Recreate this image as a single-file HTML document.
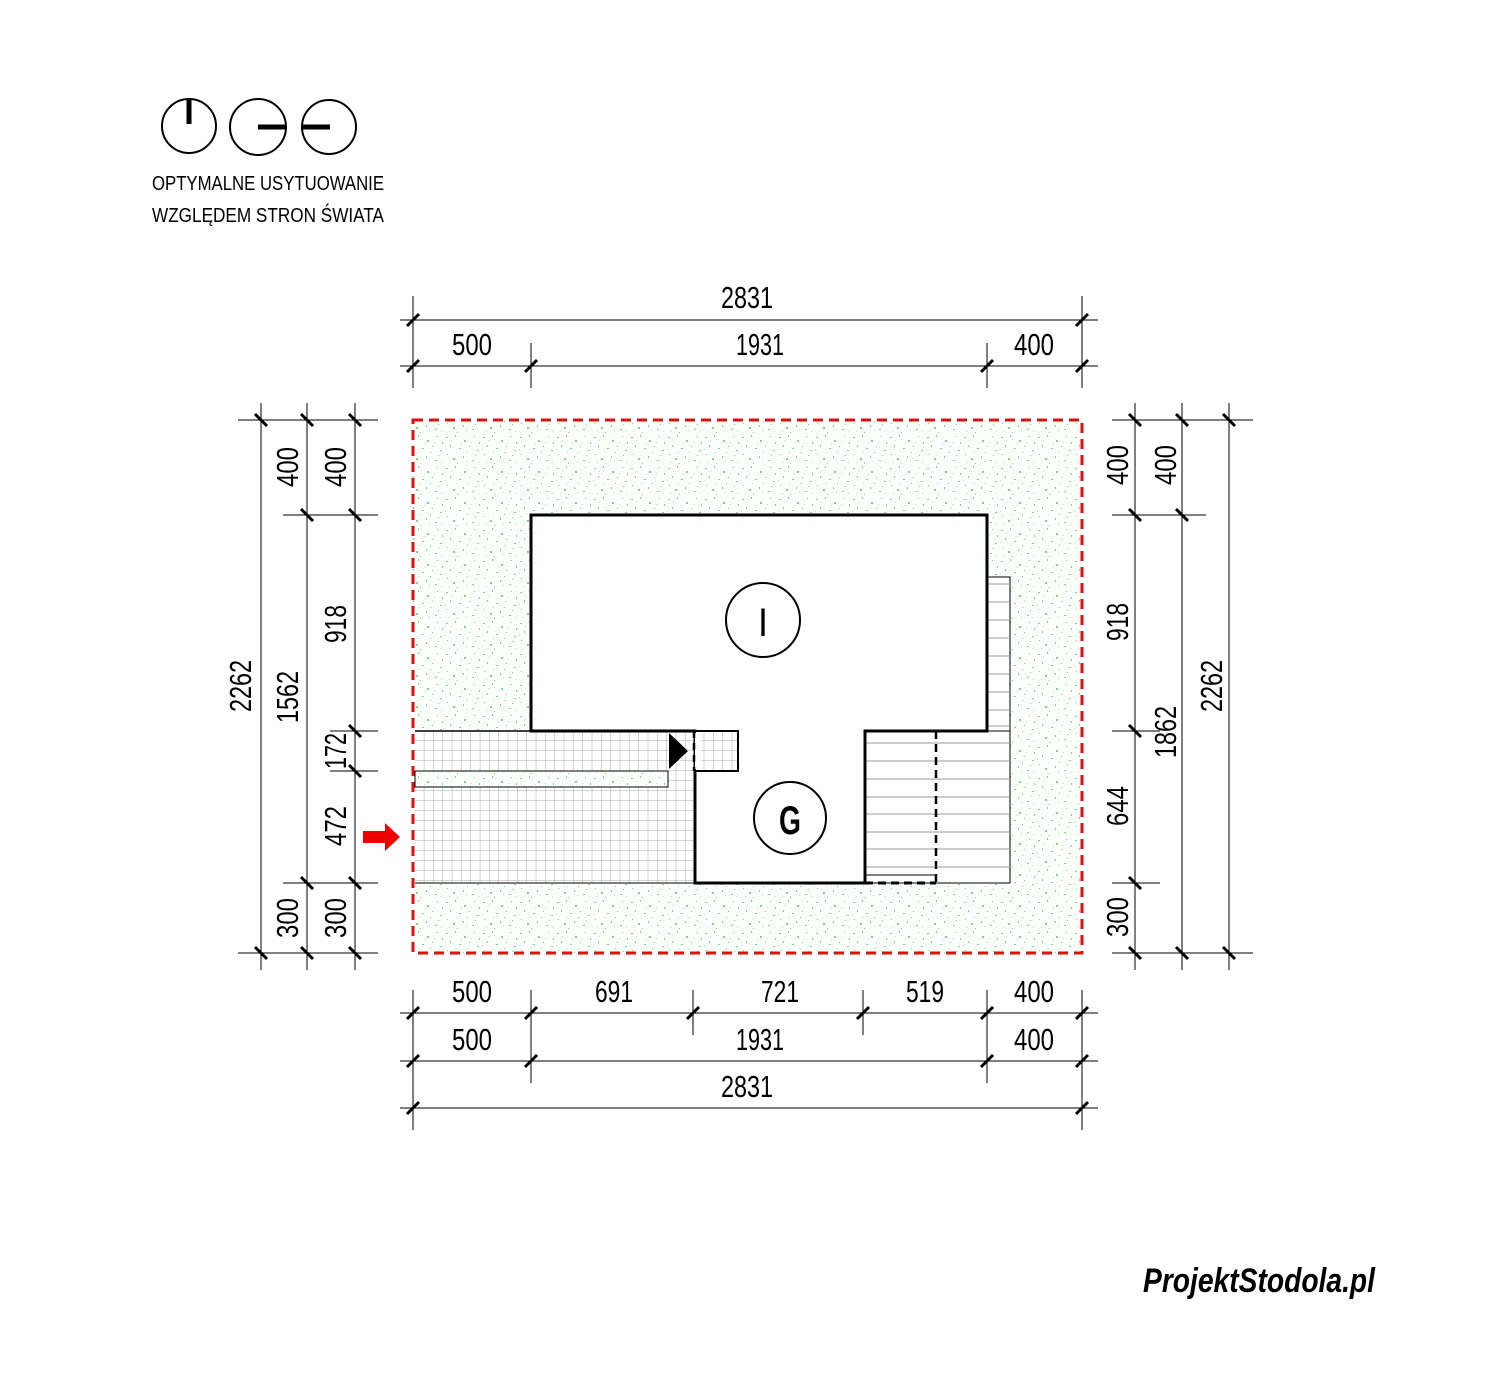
<!DOCTYPE html>
<html><head><meta charset="utf-8"><style>
html,body{margin:0;padding:0;background:#fff;}
svg{display:block}
text{font-family:"Liberation Sans",sans-serif;fill:#000}
</style></head><body>
<svg width="1512" height="1381" viewBox="0 0 1512 1381" xmlns="http://www.w3.org/2000/svg">
<defs>
<pattern id="grass" width="37" height="31" patternUnits="userSpaceOnUse">
<rect width="37" height="31" fill="#fbfffb"/>
<g fill="#7fd77f">
<rect x="2" y="3" width="2" height="1"/><rect x="11" y="1" width="1" height="2"/><rect x="20" y="6" width="2" height="2"/><rect x="30" y="2" width="1" height="1"/>
<rect x="6" y="11" width="1" height="2"/><rect x="15" y="14" width="2" height="1"/><rect x="25" y="12" width="1" height="1"/><rect x="33" y="16" width="2" height="1"/>
<rect x="3" y="20" width="1" height="1"/><rect x="9" y="24" width="2" height="2"/><rect x="19" y="22" width="1" height="2"/><rect x="28" y="26" width="2" height="1"/>
<rect x="13" y="29" width="1" height="1"/><rect x="35" y="8" width="1" height="2"/><rect x="23" y="18" width="1" height="1"/><rect x="31" y="21" width="1" height="1"/>
</g>
<g fill="#b8ecb8">
<rect x="7" y="6" width="1" height="1"/><rect x="17" y="9" width="1" height="1"/><rect x="27" y="8" width="1" height="1"/><rect x="1" y="15" width="1" height="1"/>
<rect x="12" y="18" width="1" height="1"/><rect x="22" y="27" width="1" height="1"/><rect x="34" y="28" width="1" height="1"/><rect x="5" y="28" width="1" height="1"/>
</g>
</pattern>
<pattern id="grid" x="415" y="731" width="9.33" height="10" patternUnits="userSpaceOnUse">
<rect width="9.33" height="10" fill="#fff"/>
<path d="M9.33 0V10M0 10H9.33" stroke="#aaa" stroke-width="1" fill="none"/>
</pattern>
</defs>

<!-- legend -->
<g fill="none" stroke="#000" stroke-width="2">
<circle cx="189" cy="126" r="27"/>
<circle cx="258" cy="127" r="28"/>
<circle cx="329" cy="127" r="27"/>
</g>
<g stroke="#000" stroke-width="5">
<line x1="189" y1="98" x2="189" y2="124"/>
<line x1="258" y1="127" x2="286" y2="127"/>
<line x1="301" y1="127" x2="330" y2="127"/>
</g>
<text x="152" y="190" font-size="20" textLength="232" lengthAdjust="spacingAndGlyphs">OPTYMALNE USYTUOWANIE</text>
<text x="152" y="222" font-size="20" textLength="232" lengthAdjust="spacingAndGlyphs">WZGLĘDEM STRON ŚWIATA</text>

<!-- plot -->
<rect x="413" y="420" width="669" height="533" fill="url(#grass)"/>

<!-- left terrace -->
<rect x="415" y="731" width="280" height="152" fill="url(#grid)"/>
<rect x="415" y="771" width="253" height="16" fill="url(#grass)" stroke="#000" stroke-width="1"/>
<rect x="695" y="731" width="43" height="40" fill="url(#grid)"/>

<!-- right terrace + stairs -->
<rect x="865" y="731" width="145" height="152" fill="#fff" stroke="#000" stroke-width="1"/>
<rect x="987" y="577" width="23" height="154" fill="#fff" stroke="#000" stroke-width="1"/>
<g stroke="#999" stroke-width="1">
<line x1="987" y1="584" x2="1010" y2="584"/><line x1="987" y1="602" x2="1010" y2="602"/><line x1="987" y1="620" x2="1010" y2="620"/><line x1="987" y1="638" x2="1010" y2="638"/><line x1="987" y1="656" x2="1010" y2="656"/><line x1="987" y1="674" x2="1010" y2="674"/><line x1="987" y1="692" x2="1010" y2="692"/><line x1="987" y1="710" x2="1010" y2="710"/><line x1="987" y1="726" x2="1010" y2="726"/>
<line x1="865" y1="743" x2="1010" y2="743"/><line x1="865" y1="761" x2="1010" y2="761"/><line x1="865" y1="779" x2="1010" y2="779"/><line x1="865" y1="797" x2="1010" y2="797"/><line x1="865" y1="814" x2="1010" y2="814"/><line x1="865" y1="832" x2="1010" y2="832"/><line x1="865" y1="849" x2="1010" y2="849"/><line x1="865" y1="867" x2="1010" y2="867"/>
</g>
<line x1="865" y1="875" x2="936" y2="875" stroke="#000" stroke-width="1"/>

<!-- house -->
<path d="M531 731V515H987V731H865V883H695V731Z" fill="#fff" stroke="#000" stroke-width="3"/>
<rect x="695" y="731" width="43" height="40" fill="url(#grid)" stroke="#000" stroke-width="2"/>
<line x1="415" y1="731" x2="531" y2="731" stroke="#000" stroke-width="1.5"/>
<line x1="415" y1="883" x2="695" y2="883" stroke="#000" stroke-width="1"/>
<line x1="865" y1="883" x2="1010" y2="883" stroke="#000" stroke-width="1"/>
<rect x="695" y="733" width="6" height="36" fill="#fff"/>
<line x1="694" y1="731" x2="694" y2="771" stroke="#000" stroke-width="2.5" stroke-dasharray="7,5"/>
<line x1="936" y1="731" x2="936" y2="883" stroke="#000" stroke-width="2.5" stroke-dasharray="8,5"/>
<line x1="865" y1="883" x2="936" y2="883" stroke="#000" stroke-width="3" stroke-dasharray="8,5"/>
<polygon points="669,733 669,769 688,751" fill="#000"/>

<circle cx="763" cy="620" r="37" fill="none" stroke="#000" stroke-width="2"/>
<text x="763" y="636" font-size="40" text-anchor="middle" textLength="10" lengthAdjust="spacingAndGlyphs">I</text>
<circle cx="790" cy="818" r="36" fill="none" stroke="#000" stroke-width="2"/>
<text x="790" y="834" font-size="40" text-anchor="middle" textLength="22" lengthAdjust="spacingAndGlyphs" font-weight="bold">G</text>

<rect x="413" y="420" width="669" height="533" fill="none" stroke="#d11" stroke-width="3" stroke-dasharray="10,6"/>

<!-- red arrow -->
<polygon points="363,831 385,831 385,823 400,837 385,851 385,843 363,843" fill="#e00"/>

<!-- dimension lines -->
<g stroke="#000" stroke-width="1">
<!-- top -->
<line x1="400" y1="320" x2="1098" y2="320"/>
<line x1="400" y1="366" x2="1098" y2="366"/>
<line x1="413" y1="296" x2="413" y2="388"/>
<line x1="1082" y1="296" x2="1082" y2="388"/>
<line x1="531" y1="343" x2="531" y2="388"/>
<line x1="987" y1="343" x2="987" y2="388"/>
<!-- bottom -->
<line x1="400" y1="1013" x2="1098" y2="1013"/>
<line x1="400" y1="1061" x2="1098" y2="1061"/>
<line x1="400" y1="1108" x2="1098" y2="1108"/>
<line x1="413" y1="990" x2="413" y2="1130"/>
<line x1="1082" y1="990" x2="1082" y2="1130"/>
<line x1="531" y1="990" x2="531" y2="1083"/>
<line x1="987" y1="990" x2="987" y2="1083"/>
<line x1="693" y1="990" x2="693" y2="1035"/>
<line x1="863" y1="990" x2="863" y2="1035"/>
<!-- left -->
<line x1="261" y1="403" x2="261" y2="970"/>
<line x1="307" y1="403" x2="307" y2="970"/>
<line x1="355" y1="403" x2="355" y2="970"/>
<line x1="238" y1="420" x2="378" y2="420"/>
<line x1="283" y1="515" x2="378" y2="515"/>
<line x1="330" y1="731" x2="378" y2="731"/>
<line x1="330" y1="771" x2="378" y2="771"/>
<line x1="283" y1="883" x2="378" y2="883"/>
<line x1="238" y1="953" x2="378" y2="953"/>
<!-- right -->
<line x1="1135" y1="403" x2="1135" y2="970"/>
<line x1="1182" y1="403" x2="1182" y2="970"/>
<line x1="1229" y1="403" x2="1229" y2="970"/>
<line x1="1112" y1="420" x2="1253" y2="420"/>
<line x1="1112" y1="515" x2="1206" y2="515"/>
<line x1="1112" y1="731" x2="1160" y2="731"/>
<line x1="1112" y1="883" x2="1160" y2="883"/>
<line x1="1112" y1="953" x2="1253" y2="953"/>
</g>
<!-- ticks -->
<g stroke="#000" stroke-width="3">
<path d="M407 326L419 314M1076 326L1088 314M407 372L419 360M525 372L537 360M981 372L993 360M1076 372L1088 360"/>
<path d="M407 1019L419 1007M525 1019L537 1007M687 1019L699 1007M857 1019L869 1007M981 1019L993 1007M1076 1019L1088 1007"/>
<path d="M407 1067L419 1055M525 1067L537 1055M981 1067L993 1055M1076 1067L1088 1055M407 1114L419 1102M1076 1114L1088 1102"/>
<path d="M255 414L267 426M255 947L267 959M301 414L313 426M301 509L313 521M301 877L313 889M301 947L313 959"/>
<path d="M349 414L361 426M349 509L361 521M349 725L361 737M349 765L361 777M349 877L361 889M349 947L361 959"/>
<path d="M1129 414L1141 426M1129 509L1141 521M1129 725L1141 737M1129 877L1141 889M1129 947L1141 959"/>
<path d="M1176 414L1188 426M1176 509L1188 521M1176 947L1188 959M1223 414L1235 426M1223 947L1235 959"/>
</g>

<g font-size="31">
<text x="747" y="308" text-anchor="middle" textLength="52" lengthAdjust="spacingAndGlyphs">2831</text>
<text x="472" y="355" text-anchor="middle" textLength="40" lengthAdjust="spacingAndGlyphs">500</text>
<text x="760" y="355" text-anchor="middle" textLength="48" lengthAdjust="spacingAndGlyphs">1931</text>
<text x="1034" y="355" text-anchor="middle" textLength="40" lengthAdjust="spacingAndGlyphs">400</text>

<text x="472" y="1002" text-anchor="middle" textLength="40" lengthAdjust="spacingAndGlyphs">500</text>
<text x="614" y="1002" text-anchor="middle" textLength="38" lengthAdjust="spacingAndGlyphs">691</text>
<text x="780" y="1002" text-anchor="middle" textLength="38" lengthAdjust="spacingAndGlyphs">721</text>
<text x="925" y="1002" text-anchor="middle" textLength="38" lengthAdjust="spacingAndGlyphs">519</text>
<text x="1034" y="1002" text-anchor="middle" textLength="40" lengthAdjust="spacingAndGlyphs">400</text>
<text x="472" y="1050" text-anchor="middle" textLength="40" lengthAdjust="spacingAndGlyphs">500</text>
<text x="760" y="1050" text-anchor="middle" textLength="48" lengthAdjust="spacingAndGlyphs">1931</text>
<text x="1034" y="1050" text-anchor="middle" textLength="40" lengthAdjust="spacingAndGlyphs">400</text>
<text x="747" y="1097" text-anchor="middle" textLength="52" lengthAdjust="spacingAndGlyphs">2831</text>

<text transform="translate(251,686) rotate(-90)" text-anchor="middle" textLength="52" lengthAdjust="spacingAndGlyphs">2262</text>
<text transform="translate(298,467) rotate(-90)" text-anchor="middle" textLength="40" lengthAdjust="spacingAndGlyphs">400</text>
<text transform="translate(298,697) rotate(-90)" text-anchor="middle" textLength="52" lengthAdjust="spacingAndGlyphs">1562</text>
<text transform="translate(298,918) rotate(-90)" text-anchor="middle" textLength="40" lengthAdjust="spacingAndGlyphs">300</text>
<text transform="translate(346,467) rotate(-90)" text-anchor="middle" textLength="40" lengthAdjust="spacingAndGlyphs">400</text>
<text transform="translate(346,624) rotate(-90)" text-anchor="middle" textLength="38" lengthAdjust="spacingAndGlyphs">918</text>
<text transform="translate(346,751) rotate(-90)" text-anchor="middle" textLength="36" lengthAdjust="spacingAndGlyphs">172</text>
<text transform="translate(346,826) rotate(-90)" text-anchor="middle" textLength="40" lengthAdjust="spacingAndGlyphs">472</text>
<text transform="translate(346,918) rotate(-90)" text-anchor="middle" textLength="40" lengthAdjust="spacingAndGlyphs">300</text>

<text transform="translate(1128,465) rotate(-90)" text-anchor="middle" textLength="40" lengthAdjust="spacingAndGlyphs">400</text>
<text transform="translate(1128,622) rotate(-90)" text-anchor="middle" textLength="38" lengthAdjust="spacingAndGlyphs">918</text>
<text transform="translate(1128,806) rotate(-90)" text-anchor="middle" textLength="40" lengthAdjust="spacingAndGlyphs">644</text>
<text transform="translate(1128,917) rotate(-90)" text-anchor="middle" textLength="40" lengthAdjust="spacingAndGlyphs">300</text>
<text transform="translate(1176,465) rotate(-90)" text-anchor="middle" textLength="40" lengthAdjust="spacingAndGlyphs">400</text>
<text transform="translate(1176,732) rotate(-90)" text-anchor="middle" textLength="52" lengthAdjust="spacingAndGlyphs">1862</text>
<text transform="translate(1222,686) rotate(-90)" text-anchor="middle" textLength="52" lengthAdjust="spacingAndGlyphs">2262</text>
</g>

<text x="1143" y="1292" font-family="Liberation Serif, serif" font-style="italic" font-weight="bold" font-size="34" textLength="232" lengthAdjust="spacingAndGlyphs">ProjektStodola.pl</text>
</svg>
</body></html>
